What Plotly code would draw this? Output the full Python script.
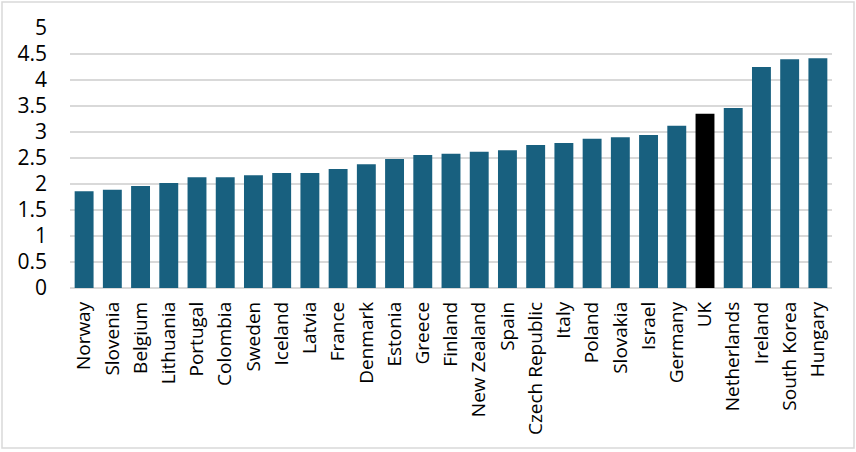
import plotly.graph_objects as go

countries = ['Norway', 'Slovenia', 'Belgium', 'Lithuania', 'Portugal', 'Colombia', 'Sweden',
             'Iceland', 'Latvia', 'France', 'Denmark', 'Estonia', 'Greece', 'Finland',
             'New Zealand', 'Spain', 'Czech Republic', 'Italy', 'Poland', 'Slovakia', 'Israel',
             'Germany', 'UK', 'Netherlands', 'Ireland', 'South Korea', 'Hungary']
values = [1.86, 1.89, 1.96, 2.02, 2.13, 2.13, 2.17,
          2.21, 2.21, 2.29, 2.38, 2.48, 2.56, 2.58,
          2.62, 2.65, 2.75, 2.79, 2.87, 2.90, 2.94,
          3.12, 3.35, 3.46, 4.25, 4.40, 4.42]
y_ticks = [0, 0.5, 1, 1.5, 2, 2.5, 3, 3.5, 4, 4.5, 5]

bar_colors = ['#000000' if c == 'UK' else '#18607f' for c in countries]

fig = go.Figure()
fig.add_trace(go.Bar(x=countries, y=values, marker_color=bar_colors,
                     marker_line_width=0))

fig.update_layout(
    width=856, height=452,
    margin=dict(l=70, r=24, t=28, b=164),
    plot_bgcolor='white', paper_bgcolor='white',
    bargap=0.33,
    showlegend=False,
    font=dict(family='Open Sans', size=19, color='#000000'),
    shapes=[dict(type='rect', xref='paper', yref='paper',
                 x0=(2 - 70) / 762, x1=(854 - 70) / 762,
                 y0=(288 - 448) / 260, y1=(288 - 2) / 260,
                 line=dict(color='#d9d9d9', width=1.5), layer='below')],
)
fig.update_xaxes(tickangle=-90, showgrid=False, showline=False, ticks='',
                 ticklabelstandoff=9, automargin=False, tickfont=dict(size=19))
fig.update_yaxes(range=[0, 5], tickvals=y_ticks, ticktext=[f'{t:g}' for t in y_ticks],
                 showgrid=True, gridcolor='#d9d9d9', gridwidth=1.5,
                 zeroline=True, zerolinecolor='#d9d9d9', zerolinewidth=1.5,
                 showline=False, ticks='', ticklabelstandoff=22, automargin=False,
                 tickfont=dict(size=21))

# page body has a default 8px margin; drop it so the figure sits at the window's corner
fig.write_html("out.html", config={'displayModeBar': False},
               post_script="document.body.style.margin='0';")
